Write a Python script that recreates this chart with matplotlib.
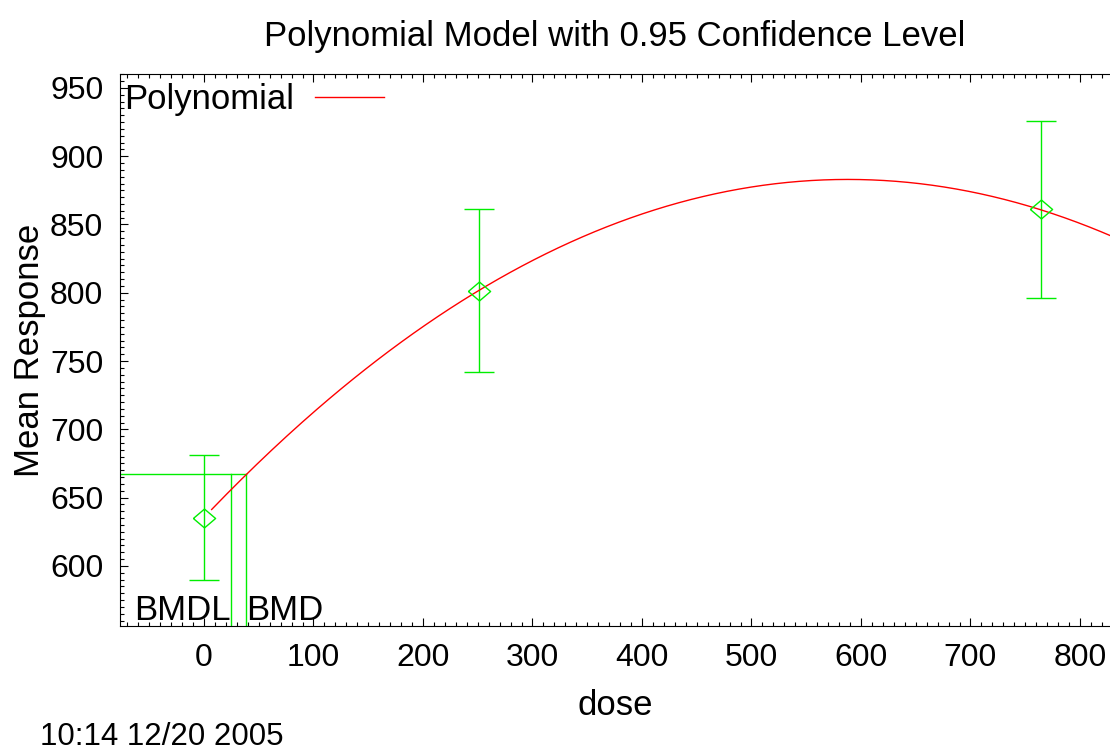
# ==========================================
# BMDS POLYNOMIAL MODEL PLOT - PLOT.PY
# ==========================================

import numpy as np
import matplotlib
matplotlib.use("Agg")
import matplotlib.pyplot as plt
from matplotlib.ticker import MultipleLocator


# ==========================================
# DATA
# ==========================================

# observed doses and mean responses
doses = [0, 251, 764]
means = [635, 801, 861]

# 95% confidence limits of each mean
lower = [590, 742, 796]
upper = [681, 861, 926]

# fitted polynomial: b0 + b1*d + b2*d^2
coef = [635.45, 0.842, -0.000716]
curve_start = 7
curve_end = 830

# benchmark dose results
bmr_response = 667
bmdl = 24.7
bmd = 38.4

title = "Polynomial Model with 0.95 Confidence Level"
timestamp = "10:14 12/20 2005"


# ==========================================
# FIGURE
# ==========================================

plt.rcParams["font.family"] = ["Liberation Sans", "DejaVu Sans"]

fig = plt.figure(figsize=(11.1, 7.5), dpi=100)
ax = fig.add_axes([120 / 1110, 124 / 750, 990 / 1110, 552 / 750])

green = "#00ee00"
red = "#ff0000"

# fitted curve
d = np.linspace(curve_start, curve_end, 300)
resp = coef[0] + coef[1] * d + coef[2] * d ** 2
ax.plot(d, resp, color=red, lw=1.0, label="Polynomial", zorder=3)

# error bars
yerr = [np.array(means) - np.array(lower), np.array(upper) - np.array(means)]
ax.errorbar(doses, means, yerr=yerr, fmt="none", ecolor=green,
            elinewidth=1.0, capsize=11, capthick=1.0, zorder=2)

# diamond markers
diamond = [(-1, 0), (0, 0.85), (1, 0), (0, -0.85), (-1, 0)]
ax.plot(doses, means, linestyle="none", marker=diamond, markersize=16,
        markerfacecolor="none", markeredgecolor=green, markeredgewidth=1.0,
        zorder=4)

# benchmark lines
ymin, ymax = 556, 960.2
ax.plot([-100, bmd], [bmr_response, bmr_response], color=green, lw=1.0)
ax.plot([bmdl, bmdl], [ymin - 10, bmr_response], color=green, lw=1.0)
ax.plot([bmd, bmd], [ymin - 10, bmr_response], color=green, lw=1.0)

ax.text(bmdl - 0.5, ymin - 0.5, "BMDL", ha="right", va="bottom", fontsize=25)
ax.text(bmd + 0.5, ymin - 0.5, "BMD", ha="left", va="bottom", fontsize=25)


# ==========================================
# AXES
# ==========================================

ax.set_xlim(-76.7, 827.4)
ax.set_ylim(ymin, ymax)

ax.xaxis.set_major_locator(MultipleLocator(100))
ax.xaxis.set_minor_locator(MultipleLocator(10))
ax.yaxis.set_major_locator(MultipleLocator(50))
ax.yaxis.set_minor_locator(MultipleLocator(5))

ax.tick_params(which="both", direction="in", top=True, right=False,
               labelsize=23, width=0.8)
ax.tick_params(which="major", length=6, pad=12)
ax.tick_params(which="minor", length=3)

for s in ["left", "bottom", "top"]:
    ax.spines[s].set_linewidth(0.8)
ax.spines["right"].set_visible(False)

ax.set_xlabel("dose", fontsize=25, labelpad=12)
ax.set_ylabel("Mean Response", fontsize=25, labelpad=3)

ax.set_title(title, fontsize=25, pad=20)

leg = ax.legend(loc="upper left", frameon=False, fontsize=25,
                markerfirst=False, handlelength=2.0,
                bbox_to_anchor=(4 / 990, 1 - 9 / 552),
                borderaxespad=0.0, borderpad=0.0, handletextpad=0.6)

fig.text(40 / 1110, 1 - 737 / 750, timestamp, fontsize=22.5,
         ha="left", va="center")

fig.savefig("out.png", dpi=100)
